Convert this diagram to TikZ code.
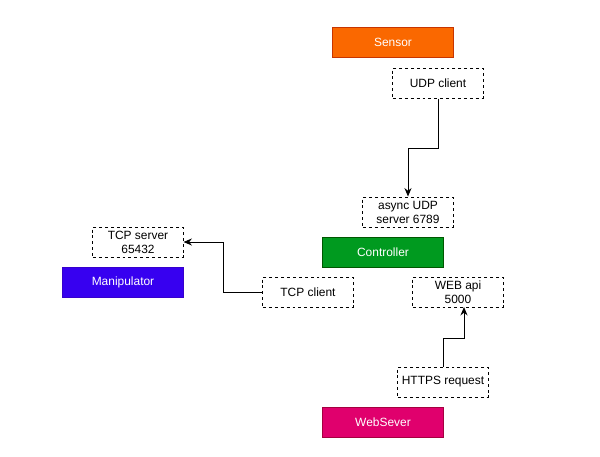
\documentclass[tikz,border=0pt]{standalone}
\usepackage{fontspec}
\setmainfont{Liberation Sans}
\usetikzlibrary{positioning,arrows.meta}

\definecolor{sensorfill}{HTML}{FA6800}
\definecolor{sensorline}{HTML}{C73500}
\definecolor{ctrlfill}{HTML}{009A1F}
\definecolor{ctrlline}{HTML}{005700}
\definecolor{manipfill}{HTML}{3700F0}
\definecolor{manipline}{HTML}{3700CC}
\definecolor{webfill}{HTML}{E0006D}
\definecolor{webline}{HTML}{A50040}

\begin{document}
\begin{tikzpicture}[x=0.025cm, y=-0.025cm,
    device/.style={draw, line width=0.7pt, minimum width=3cm,
      minimum height=0.75cm, align=center, text=white,
      font=\fontsize{8.5}{10}\selectfont, inner sep=2pt},
    port/.style={draw=black, line width=0.7pt, dash pattern=on 2.1pt off 2.1pt,
      minimum width=2.25cm, minimum height=0.75cm, align=center,
      font=\fontsize{8.5}{10}\selectfont, inner sep=1pt},
    link/.style={-{Stealth[length=6pt, width=5pt]}, line width=0.7pt}
  ]
    \useasboundingbox (0,0) rectangle (600,456);
    % devices
    \node[device, fill=sensorfill, draw=sensorline] (Sensor) at (393,42) {Sensor};
    \node[device, fill=ctrlfill, draw=ctrlline] (Controller) at (383,252) {Controller};
    \node[device, fill=manipfill, draw=manipline] (Manipulator) at (123,282) {Manipulator};
    \node[device, fill=webfill, draw=webline] (WebSever) at (383,422) {WebSever};
    % ports
    \node[port] (UDPclient) at (438,83) {UDP client};
    \node[port] (UDPserver) at (408,212) {async UDP\\server 6789};
    \node[port] (TCPserver) at (138,242) {TCP server\\65432};
    \node[port] (TCPclient) at (308,292) {TCP client};
    \node[port] (WEBapi) at (458,292) {WEB api\\5000};
    \node[port] (HTTPS) at (443,382) {HTTPS request};
    \coordinate (apiin) at (464,307);
    % links
    \draw[link] (UDPclient.south) |- (408,148) -- (UDPserver.north);
    \draw[link] (TCPclient.west) -| (223,242) -- (TCPserver.east);
    \draw[link] (HTTPS.north) |- (464,338) -- (apiin);
\end{tikzpicture}
\end{document}
